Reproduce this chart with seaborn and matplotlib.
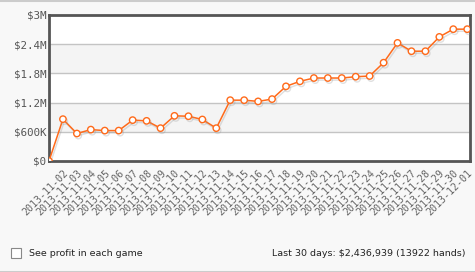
import matplotlib
matplotlib.use("Agg")
import matplotlib.pyplot as plt
import matplotlib.patheffects as pe
import seaborn as sns
import pandas as pd
import numpy as np

# ---- data ----
dates = ["2013-11-01", "2013-11-02", "2013-11-03", "2013-11-04", "2013-11-05", "2013-11-06",
         "2013-11-07", "2013-11-08", "2013-11-09", "2013-11-10", "2013-11-11",
         "2013-11-12", "2013-11-13", "2013-11-14", "2013-11-15", "2013-11-16",
         "2013-11-17", "2013-11-18", "2013-11-19", "2013-11-20", "2013-11-21",
         "2013-11-22", "2013-11-23", "2013-11-24", "2013-11-25", "2013-11-26",
         "2013-11-27", "2013-11-28", "2013-11-29", "2013-11-30", "2013-12-01"]
profit = [0, 860000, 565000, 645000, 625000, 625000, 840000, 825000, 675000,
          928000, 920000, 853000, 675000, 1250000, 1250000, 1225000, 1272000,
          1534000, 1637000, 1705000, 1705000, 1705000, 1732000, 1746000,
          2020000, 2427000, 2256000, 2256000, 2550000, 2709000, 2709000]
y_ticks = [0, 600000, 1200000, 1800000, 2400000, 3000000]
y_labels = ["$0", "$600K", "$1.2M", "$1.8M", "$2.4M", "$3M"]
footer_left = "See profit in each game"
footer_right = "Last 30 days: $2,436,939 (13922 hands)"

df = pd.DataFrame({"idx": np.arange(len(dates)), "date": dates, "profit": profit})

sns.set_style("white")
plt.rcParams["font.family"] = ["DejaVu Sans"]

W, H = 475, 272
fig = plt.figure(figsize=(W / 100, H / 100), dpi=100, facecolor="#f8f8f8")
ax = fig.add_axes([49 / W, 1 - 161 / H, (470 - 49) / W, (161 - 15) / H])
ax.set_facecolor("white")

# alternating bands
for i in range(len(y_ticks) - 1):
    if i % 2 == 1:
        ax.axhspan(y_ticks[i], y_ticks[i + 1], color="#f4f4f4", zorder=0, lw=0)
for t in y_ticks[1:-1]:
    ax.axhline(t, color="#c4c4c4", lw=1.0, zorder=1)

sns.lineplot(data=df, x="idx", y="profit", ax=ax, color="#ff6a1a", lw=1.1,
             marker="o", markersize=4.6, markerfacecolor="white",
             markeredgecolor="#ff6a1a", markeredgewidth=1.0, zorder=3,
             path_effects=[pe.SimpleLineShadow(offset=(1.0, -1.5), shadow_color="#999999", alpha=0.3),
                           pe.Normal()])

ax.set_xlim(0, 30.2)
ax.set_ylim(0, 3000000)
ax.set_yticks(y_ticks)
ax.set_yticklabels(y_labels, fontsize=7.8, color="#555555", family="DejaVu Sans Mono")
ax.set_xticks(df["idx"][1:])
ax.set_xticklabels(df["date"][1:], rotation=45, ha="right", rotation_mode="anchor",
                   fontsize=7.2, color="#666666", family="DejaVu Sans Mono")
ax.tick_params(axis="both", length=0, pad=2)
ax.tick_params(axis="x", pad=5)
ax.set_xlabel("")
ax.set_ylabel("")
for s in ax.spines.values():
    s.set_visible(True)
    s.set_color("#555555")
    s.set_linewidth(2)

# top and bottom rule lines
fig.add_artist(plt.Line2D([0, 1], [1 - 0.5 / H, 1 - 0.5 / H], color="#cccccc", lw=1.5))
fig.add_artist(plt.Line2D([0, 1], [0.5 / H, 0.5 / H], color="#cccccc", lw=1.5))

# checkbox
fig.add_artist(plt.Rectangle((11 / W, 1 - 258 / H), 10 / W, 10 / H, facecolor="white",
                             edgecolor="#888888", lw=0.8))
fig.text(29 / W, 1 - 254 / H, footer_left, fontsize=6.8, color="#222222", va="center", ha="left")
fig.text(465 / W, 1 - 254 / H, footer_right, fontsize=6.8, color="#222222", va="center", ha="right")

fig.savefig("out.png", dpi=100, facecolor=fig.get_facecolor())
